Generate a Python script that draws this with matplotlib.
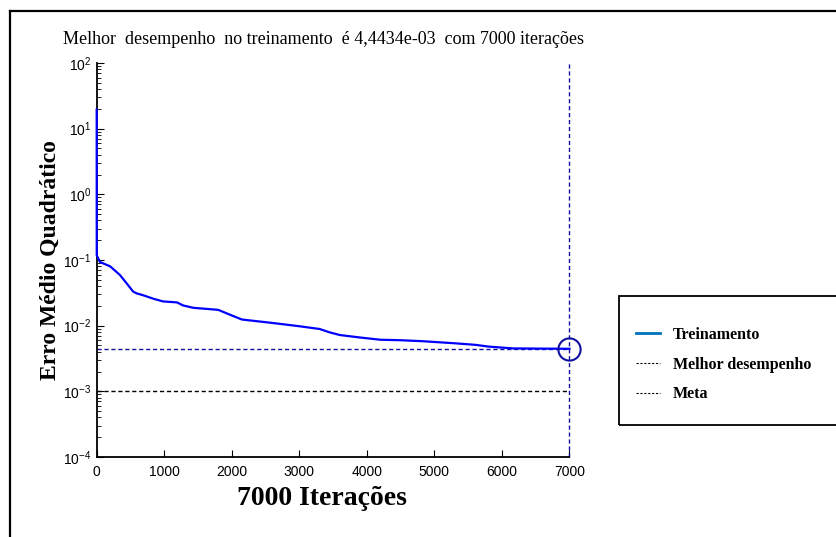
import numpy as np
import matplotlib.pyplot as plt
from matplotlib.lines import Line2D
from matplotlib.patches import Rectangle

plt.rcParams['font.family'] = ['Liberation Sans', 'DejaVu Sans']
plt.rcParams['mathtext.default'] = 'regular'

# training curve (iteration, mse)
iteracoes = [0, 1, 50, 200, 345, 460, 540, 593, 690, 840, 980, 1190, 1280, 1430,
             1800, 2000, 2150, 2600, 3000, 3300, 3450, 3600, 3900, 4200, 4500,
             4820, 5290, 5610, 5800, 6170, 7000]
erro = [19.5, 0.118, 0.093, 0.080, 0.059, 0.042, 0.033, 0.031, 0.029, 0.0257,
        0.0234, 0.0226, 0.0203, 0.0187, 0.0174, 0.0143, 0.0124, 0.011, 0.0098,
        0.0089, 0.0079, 0.0072, 0.0066, 0.0061, 0.0060, 0.0058, 0.0054, 0.0051,
        0.0048, 0.0045, 0.0044434]

melhor = 4.4434e-3
meta = 1e-3
n_iter = 7000
xticks = [0, 1000, 2000, 3000, 4000, 5000, 6000, 7000]

fig = plt.figure(figsize=(8.37, 5.37), dpi=100)
ax = fig.add_axes([0.1155, 0.149, 0.5649, 0.7337])

navy = '#1010a0'
ax.plot(iteracoes, erro, color='#0000ff', lw=1.6, zorder=3, clip_on=False)
ax.plot([0, n_iter], [melhor, melhor], color=navy, lw=1, dashes=(3, 2))
ax.plot([0, n_iter], [meta, meta], color='black', lw=1, dashes=(3, 2))
ax.axvline(n_iter, color=navy, lw=1, dashes=(3, 2), clip_on=False)
ax.plot([n_iter], [melhor], 'o', ms=16, mfc='none', mec=navy, mew=1.5,
        clip_on=False, zorder=4)

ax.set_yscale('log')
ax.set_xlim(0, n_iter)
ax.set_ylim(1e-4, 1e2)
ax.set_xticks(xticks)
for s in ['top', 'right']:
    ax.spines[s].set_visible(False)
ax.spines['left'].set_linewidth(1.3)
ax.spines['bottom'].set_linewidth(1.3)
ax.tick_params(axis='both', which='major', direction='in', length=5, labelsize=10)
ax.tick_params(axis='x', pad=6)
ax.tick_params(axis='y', pad=4)
ax.tick_params(axis='y', which='minor', direction='in', length=3)

fig.text(323.5 / 837, 1 - 40 / 537,
         'Melhor  desempenho  no treinamento  é 4,4434e-03  com 7000 iterações',
         family='Liberation Serif', fontsize=13, ha='center', va='center')
ax.set_ylabel('Erro Médio Quadrático', family='Liberation Serif',
              fontweight='bold', fontsize=17)
ax.yaxis.set_label_coords(-0.076, 0.5)
ax.set_xlabel('7000 Iterações', family='Liberation Serif',
              fontweight='bold', fontsize=20)
ax.xaxis.set_label_coords(0.4766, -0.074)

# legend box, cut by the right edge like the original
fig.add_artist(Rectangle((619 / 837, (537 - 425) / 537), 0.3, 129 / 537,
                         transform=fig.transFigure, fill=False, lw=1.3,
                         edgecolor='black'))
handles = [Line2D([], [], color='#0072BD', lw=2),
           Line2D([], [], color='black', lw=0.8, dashes=(2, 1.5)),
           Line2D([], [], color='black', lw=0.8, dashes=(2, 1.5))]
fig.legend(handles, ['Treinamento', 'Melhor desempenho', 'Meta'],
           loc='upper left', bbox_to_anchor=(628 / 837, (537 - 319) / 537),
           frameon=False, borderpad=0, handlelength=1.5, handletextpad=0.8,
           labelspacing=0.85,
           prop={'family': 'Liberation Serif', 'weight': 'bold', 'size': 11.5})

# outer frame (top and left edges)
fig.add_artist(Line2D([9.5 / 837, 1], [1 - 10.5 / 537] * 2,
                      transform=fig.transFigure, color='black', lw=1.6))
fig.add_artist(Line2D([9.5 / 837] * 2, [0, 1 - 10.5 / 537],
                      transform=fig.transFigure, color='black', lw=1.6))

fig.savefig('out.png', dpi=100)
